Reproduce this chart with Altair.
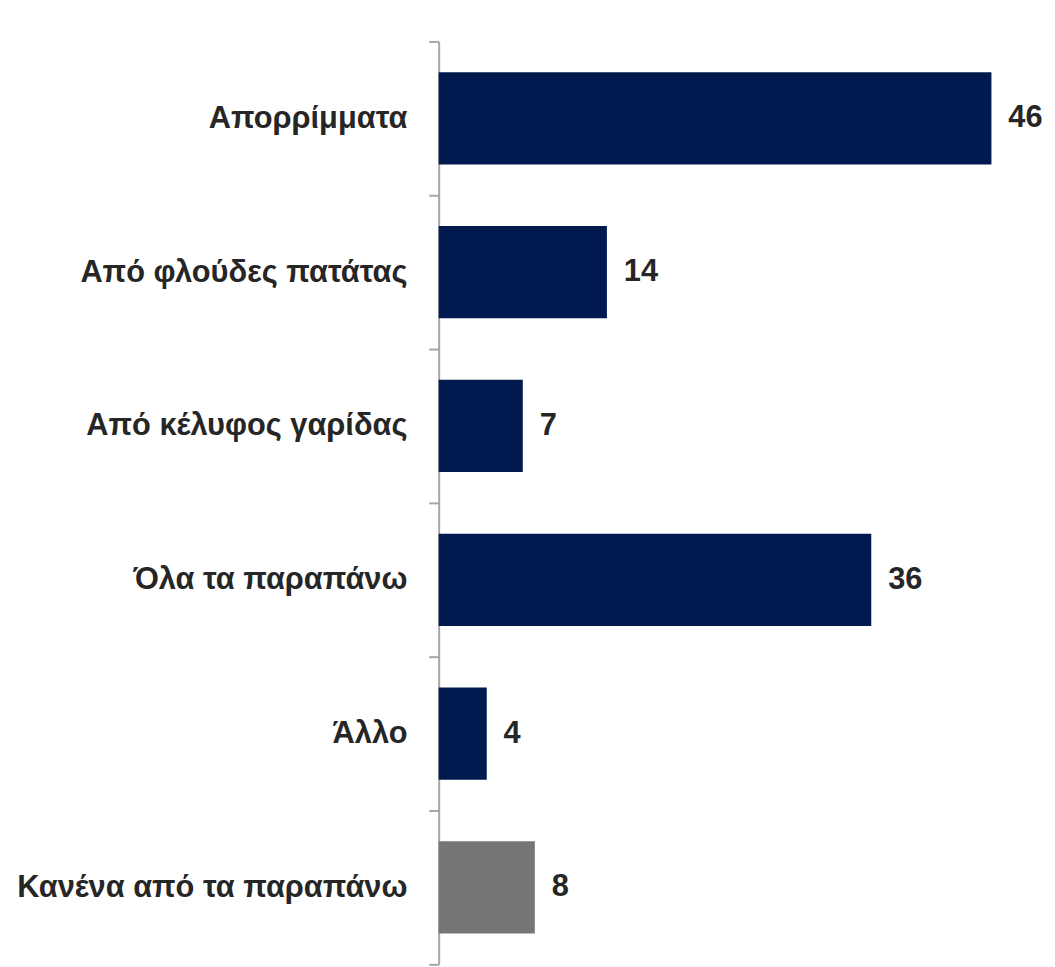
import altair as alt
import pandas as pd

categories = [
    "Απορρίμματα",
    "Από φλούδες πατάτας",
    "Από κέλυφος γαρίδας",
    "Όλα τα παραπάνω",
    "Άλλο",
    "Κανένα από τα παραπάνω",
]
values = [46, 14, 7, 36, 4, 8]
groups = ["main", "main", "main", "main", "main", "none"]
group_colors = ["#001A4F", "#767676"]

df = pd.DataFrame({"cat": categories, "val": values, "grp": groups})

FONT = "'Liberation Sans', Arial, sans-serif"

y = alt.Y(
    "cat:N",
    sort=categories,
    title=None,
    scale=alt.Scale(paddingInner=0, paddingOuter=0),
    axis=alt.Axis(
        domainColor="#A6A6A6",
        domainWidth=2,
        tickColor="#A6A6A6",
        tickWidth=2,
        tickSize=10,
        tickBand="extent",
        labelFont=FONT,
        labelFontSize=31,
        labelFontWeight="bold",
        labelColor="#262626",
        labelPadding=22,
        labelLimit=0,
    ),
)
x = alt.X("val:Q", scale=alt.Scale(domain=[0, 46], nice=False, zero=True), axis=None)

bars = alt.Chart(df).mark_bar(size=93).encode(
    x=x,
    y=y,
    color=alt.Color(
        "grp:N",
        scale=alt.Scale(domain=["main", "none"], range=group_colors),
        legend=None,
    ),
)

labels = alt.Chart(df).mark_text(
    align="left",
    baseline="middle",
    dx=17,
    font=FONT,
    fontSize=31,
    fontWeight="bold",
    color="#262626",
).encode(x=x, y=y, text="val:Q")

chart = (
    (bars + labels)
    .properties(
        width=557,
        height=930,
        autosize=alt.AutoSizeParams(type="none"),
        padding={"left": 434, "top": 30, "right": 56, "bottom": 0},
    )
    .configure_view(stroke=None)
)

chart.save("out.html", embed_options={"renderer": "svg", "actions": False})
